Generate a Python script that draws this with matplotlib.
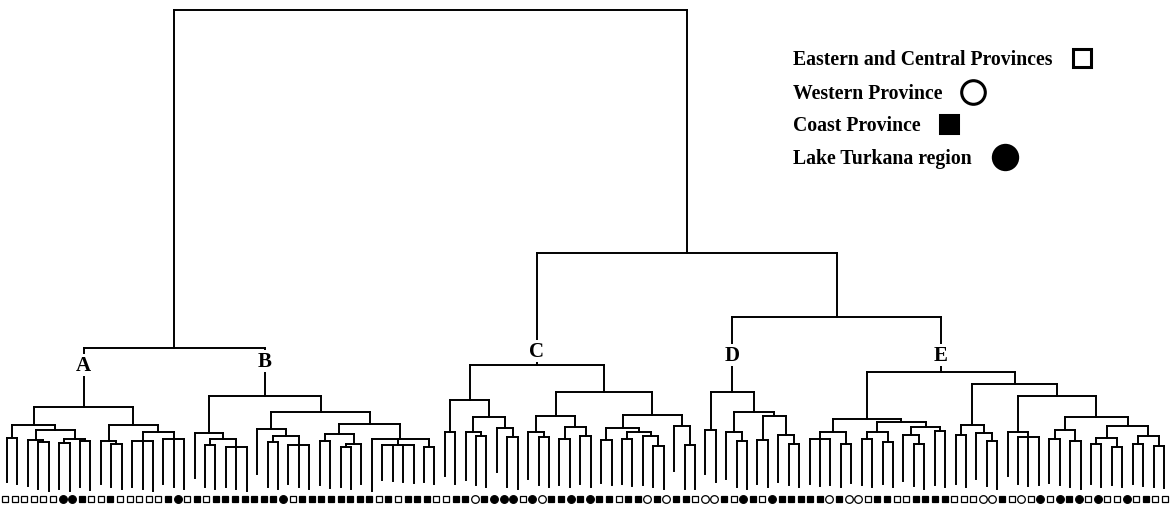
import matplotlib.pyplot as plt
import numpy as np

plt.rcParams['font.family'] = 'Liberation Serif'

# tree nodes: (height, child, child, ...); a bare number is a leaf and gives
# the height where that leaf's line stops
clade_A = (102,
           (84, (71, 27, 25),
                (79, (69, 23, (67, 20, 18)), (70, (66, 20, 18), (68, 22, 19)))),
           (84, (68, 25, (65, 22, 20)),
                (77, (68, 22, 20, 18), (70, 25, 22, 20))))
clade_B = (113,
           (76, 31, (70, (64, 22, 20), (62, 22, 20, 18))),
           (97, (80, 35, (73, (67, 22, 20), (64, 25, 22, 20))),
                (85, (75, (68, 24, 21), (65, (62, 22, 20), 25)),
                     (70, 18, (64, 29, 28, 27, 26), (62, 27, 25)))))
clade_C = (144,
           (109, (77, 33, 25),
                 (92, (77, 29, (73, 24, 22)), (81, 37, (72, 22, 20)))),
           (117, (93, (77, 30, (72, 24, 22)), (82, (70, 24, 22), (73, 25, 22))),
                 (94, (81, (69, 26, 24),
                           (77, (70, 25, 23), (73, 24, (63, 22, 20)))),
                      (83, 38, (64, 20, 20)))))
clade_D = (117,
           (79, 35, 27),
           (97, (77, 30, (68, 22, 20)),
                (93, (69, 25, 22), (74, 27, (65, 24, 22)))))
clade_E = (137,
           (90, (77, (70, 25, 23, 24), (65, 22, 26)),
                (87, (77, (70, 24, 22), (67, 25, 22)),
                     (82, (74, 28, (65, 23, 20)), (78, 24, 22)))),
           (125, (84, (74, 25, 22), (76, 30, (68, 23, 20))),
                 (113, (77, 33, (72, 25, 23, 24)),
                       (92, (79, (70, 26, 24), (68, 22, 20)),
                            (83, (71, (65, 25, 22), (62, 24, 22)),
                                 (73, (65, 25, 23), (63, 22, 21)))))))
tree = (499, (161, clade_A, clade_B), (256, clade_C, (192, clade_D, clade_E)))

clade_names = ['A', 'B', 'C', 'D', 'E']
clade_label_h = [144, 148, 158, 154, 154]

# origin of each sample along the bottom
# E = Eastern/Central, W = Western, C = Coast, L = Lake Turkana
origin = list("EEEEEELLCEECEEEEEC"
              "LECECCCCCCCLECCCCC"
              "CCCECECCCEECCWCLLLEL"
              "WCCLCLCCECCWCWCC"
              "EWWCELCELCCCCCWCW"
              "WECCEECCCCEEEWWC"
              "EWELELCLELEELECEE")

legend_labels = ['Eastern and Central Provinces', 'Western Province',
                 'Coast Province', 'Lake Turkana region']
legend_codes = ['E', 'W', 'C', 'L']
legend_x = [1082, 973, 949, 1005]
legend_y = [451, 417, 385, 352]
legend_size = [12.5, 17, 13.5, 17.5]

styles = {'E': ('s', 'white'), 'W': ('o', 'white'),
          'C': ('s', 'black'), 'L': ('o', 'black')}


def count_leaves(node):
    if not isinstance(node, tuple):
        return 1
    return sum(count_leaves(c) for c in node[1:])


n_leaves = count_leaves(tree)
leaf_x = np.linspace(7, 1164, n_leaves)

fig = plt.figure(figsize=(11.7, 5.1), dpi=100)
ax = fig.add_axes([0, 0, 1, 1])
ax.set_xlim(0, 1170)
ax.set_ylim(0, 510)
ax.axis('off')

line_kw = dict(color='black', lw=1.4, solid_capstyle='projecting')
leaf_pos = iter(leaf_x)
stem_x = {}


def draw(node):
    if not isinstance(node, tuple):
        return next(leaf_pos), node
    h = node[0]
    kids = [draw(c) for c in node[1:]]
    for kx, kh in kids:
        ax.plot([kx, kx], [kh, h], **line_kw)
    ax.plot([kids[0][0], kids[-1][0]], [h, h], **line_kw)
    x = (kids[0][0] + kids[-1][0]) / 2
    stem_x[id(node)] = x
    return x, h


draw(tree)

for name, clade, lh in zip(clade_names, [clade_A, clade_B, clade_C, clade_D, clade_E],
                           clade_label_h):
    ax.text(stem_x[id(clade)], lh, name, ha='center', va='center',
            fontsize=15, fontweight='bold', zorder=5,
            bbox=dict(facecolor='white', edgecolor='none', pad=0.5))

mark_x = np.linspace(5, 1165, len(origin))
for x, code in zip(mark_x, origin):
    m, fc = styles[code]
    ax.plot(x, 10, marker=m, ms=4.8 if m == 's' else 5.5, mfc=fc,
            mec='black', mew=0.9, ls='none')

for i, (lab, code) in enumerate(zip(legend_labels, legend_codes)):
    ax.text(793, legend_y[i] - 1, lab, ha='left', va='center',
            fontsize=14.2, fontweight='bold')
    m, fc = styles[code]
    ax.plot(legend_x[i], legend_y[i], marker=m, ms=legend_size[i], mfc=fc,
            mec='black', mew=2.2, ls='none')

fig.savefig('out.png', dpi=100, facecolor='white')
